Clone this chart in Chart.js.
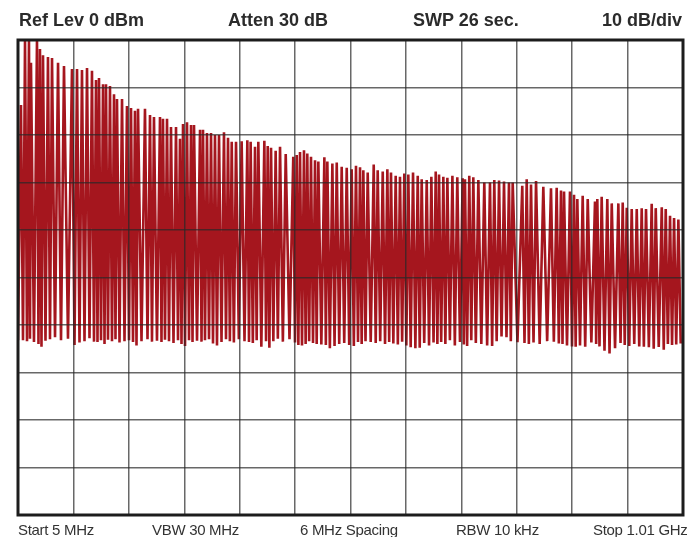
<!DOCTYPE html>
<html>
<head>
<meta charset="utf-8">
<title>Spectrum sweep</title>
<script src="https://cdn.jsdelivr.net/npm/chart.js@4"></script>
<style>
  html, body { margin: 0; padding: 0; background: #fff; }
  #wrap { position: relative; width: 691px; height: 537px; overflow: hidden; }
  #wrap canvas { position: absolute; left: 0; top: 0; }
  .head, .foot { position: absolute; white-space: nowrap; font-family: "Liberation Sans", Arial, sans-serif; }
  .head { top: 10px; font-size: 18px; font-weight: bold; color: #2b2b2b; }
  .foot { top: 521px; font-size: 15px; color: #333; letter-spacing: -0.3px; }
</style>
</head>
<body>
<div id="wrap">
  <canvas id="sweep" width="691" height="537"></canvas>
  <span class="head" style="left:19px">Ref Lev 0 dBm</span>
  <span class="head" style="left:228px">Atten 30 dB</span>
  <span class="head" style="left:413px">SWP 26 sec.</span>
  <span class="head" style="left:602px">10 dB/div</span>
  <span class="foot" style="left:18px">Start 5 MHz</span>
  <span class="foot" style="left:152px">VBW 30 MHz</span>
  <span class="foot" style="left:300px">6 MHz Spacing</span>
  <span class="foot" style="left:456px">RBW 10 kHz</span>
  <span class="foot" style="left:593px">Stop 1.01 GHz</span>
</div>
<script>
// carrier positions, MHz
const peakFreqs = [
  9.5, 15.6, 21.6, 24.6, 33.7, 38.2, 42.8, 50.3, 56.4, 65.5,
  74.5, 86.6, 94.2, 101.7, 109.3, 116.8, 122.9, 127.4, 133.5, 138.0,
  144.0, 150.1, 154.6, 162.2, 169.7, 175.8, 181.8, 186.4, 196.9, 204.5,
  210.5, 219.6, 224.1, 230.2, 236.2, 243.8, 249.8, 254.4, 260.4, 266.5,
  271.0, 280.1, 284.6, 290.6, 296.7, 302.7, 308.8, 316.3, 322.4, 328.0,
  334.5, 343.0, 351.6, 356.6, 363.2, 368.2, 377.3, 382.4, 387.4, 394.4,
  401.0, 409.6, 421.0, 426.2, 431.2, 437.2, 442.2, 447.8, 453.9, 458.9,
  468.0, 472.5, 480.1, 486.7, 494.2, 501.8, 509.3, 515.8, 521.9, 526.9,
  533.5, 542.6, 548.6, 556.2, 563.2, 568.7, 575.8, 582.3, 588.8, 594.9,
  602.0, 609.1, 615.1, 622.7, 629.7, 636.3, 641.3, 647.8, 653.9, 661.5,
  668.9, 677.0, 680.5, 687.0, 693.1, 700.7, 709.7, 718.3, 724.8, 732.0,
  739.5, 747.0, 752.6, 767.1, 773.8, 780.3, 787.9, 798.9, 810.5, 819.1,
  825.6, 830.2, 839.2, 845.3, 850.3, 858.4, 866.0, 877.0, 880.5, 887.1,
  895.6, 902.3, 912.3, 918.9, 925.0, 932.5, 940.1, 947.6, 954.1, 962.7,
  968.8, 977.9, 983.9, 990.4, 996.5, 1003.0
];

// top of each carrier, dB
const peakLevels = [
  -13.7, 0, 0, -4.8, 0, -1.9, -3.2, -3.6, -3.8, -4.8,
  -5.5, -6.1, -6.1, -6.3, -5.9, -6.5, -8.4, -8.0, -9.3, -9.3,
  -9.7, -11.4, -12.4, -12.4, -13.9, -14.3, -14.9, -14.5, -14.5, -15.8,
  -16.2, -16.2, -16.6, -16.6, -18.3, -18.3, -20.8, -17.7, -17.3, -17.9,
  -17.9, -18.9, -18.9, -19.6, -19.6, -20.0, -20.0, -19.4, -20.6, -21.4,
  -21.4, -21.3, -21.1, -21.4, -22.5, -21.4, -21.2, -22.3, -22.7, -23.3,
  -22.5, -24.0, -24.6, -24.2, -23.6, -23.2, -23.9, -24.6, -25.3, -25.6,
  -24.7, -25.6, -26.0, -25.8, -26.7, -26.9, -27.2, -26.5, -26.8, -27.4,
  -27.9, -26.2, -27.4, -27.7, -27.2, -27.9, -28.6, -28.8, -28.1, -28.3,
  -27.9, -28.6, -29.3, -29.5, -28.8, -27.7, -28.3, -28.8, -29.0, -28.6,
  -28.9, -29.1, -29.3, -28.6, -28.9, -29.5, -30.0, -30.0, -29.5, -29.6,
  -29.8, -30.0, -30.0, -30.7, -29.3, -30.4, -29.7, -30.9, -31.2, -31.1,
  -31.7, -31.9, -31.9, -32.6, -33.5, -32.8, -33.5, -34.0, -33.5, -33.0,
  -33.5, -34.4, -34.4, -34.2, -35.3, -35.6, -35.6, -35.4, -35.6, -34.5,
  -35.4, -35.2, -35.6, -37.0, -37.5, -37.8
];

// bottom of the gap following each carrier, dB
const troughLevels = [
  -63.2, -63.4, -62.9, -63.6, -64.0, -64.6, -63.3, -63.0, -62.6, -63.2,
  -62.9, -64.2, -63.7, -63.4, -62.8, -63.5, -63.6, -63.2, -64.0, -63.1,
  -63.4, -63.0, -63.7, -63.4, -63.2, -63.6, -64.3, -63.4, -63.0, -63.5,
  -63.3, -63.6, -63.1, -63.4, -63.8, -63.2, -64.0, -64.4, -63.2, -63.6,
  -63.3, -63.5, -63.2, -63.0, -63.9, -64.3, -63.6, -63.0, -63.4, -63.7,
  -63.0, -63.4, -63.6, -63.8, -63.2, -64.6, -63.4, -64.8, -63.4, -62.9,
  -63.5, -63.0, -63.7, -64.2, -64.3, -64.0, -63.4, -63.8, -64.0, -64.1,
  -64.2, -64.9, -64.4, -64.0, -63.8, -64.2, -64.4, -63.6, -64.0, -63.4,
  -63.6, -63.8, -63.4, -64.0, -63.6, -63.9, -64.1, -63.5, -64.3, -64.7,
  -64.9, -64.8, -63.8, -64.3, -63.7, -64.0, -63.6, -64.0, -63.2, -64.3,
  -63.6, -64.1, -64.4, -63.2, -63.8, -64.0, -64.3, -64.4, -63.4, -62.4,
  -62.6, -63.4, -63.6, -63.8, -64.0, -63.7, -64.0, -63.4, -63.5, -63.9,
  -64.0, -64.3, -64.5, -64.6, -64.3, -64.6, -63.7, -64.0, -64.5, -65.4,
  -66.0, -64.9, -63.8, -64.2, -64.4, -64.0, -64.5, -64.6, -64.7, -65.0,
  -64.6, -65.2, -64.0, -64.2, -64.1, -63.9
];

const freqStart = 5;
const freqStop = 1010;
const freqDiv = 83.75;
const levelMin = -100;
const levelMax = 0;
const levelDiv = 10;

// zigzag: up to each carrier, then down into the gap after it
const trace = [{ x: freqStart, y: troughLevels[0] }];
peakFreqs.forEach(function (f, i) {
  trace.push({ x: f, y: peakLevels[i] });
  const next = i + 1 < peakFreqs.length ? peakFreqs[i + 1] : freqStop;
  trace.push({ x: (f + next) / 2, y: troughLevels[i] });
});

// thick outer frame of the graticule
const framePlugin = {
  id: 'frame',
  afterDraw: function (chart) {
    const a = chart.chartArea;
    const c = chart.ctx;
    c.save();
    c.strokeStyle = '#1c1c1c';
    c.lineWidth = 3;
    c.strokeRect(a.left, a.top, a.right - a.left, a.bottom - a.top);
    c.restore();
  }
};

new Chart(document.getElementById('sweep'), {
  type: 'line',
  data: {
    datasets: [{
      label: 'Sweep',
      data: trace,
      borderColor: '#a5161e',
      borderWidth: 2.6,
      borderJoinStyle: 'bevel',
      pointRadius: 0,
      tension: 0,
      fill: false
    }]
  },
  options: {
    responsive: false,
    animation: false,
    parsing: false,
    normalized: true,
    layout: { padding: { left: 18, top: 40, right: 8, bottom: 22 } },
    plugins: { legend: { display: false }, title: { display: false }, tooltip: { enabled: false } },
    scales: {
      x: {
        type: 'linear',
        min: freqStart,
        max: freqStop,
        ticks: { display: false, stepSize: freqDiv },
        border: { display: false },
        grid: { color: 'rgba(40,40,40,0.7)', lineWidth: 1.5, drawTicks: false, z: 1 }
      },
      y: {
        type: 'linear',
        min: levelMin,
        max: levelMax,
        ticks: { display: false, stepSize: levelDiv },
        border: { display: false },
        grid: { color: 'rgba(40,40,40,0.7)', lineWidth: 1.5, drawTicks: false, z: 1 }
      }
    }
  },
  plugins: [framePlugin]
});
</script>
</body>
</html>
